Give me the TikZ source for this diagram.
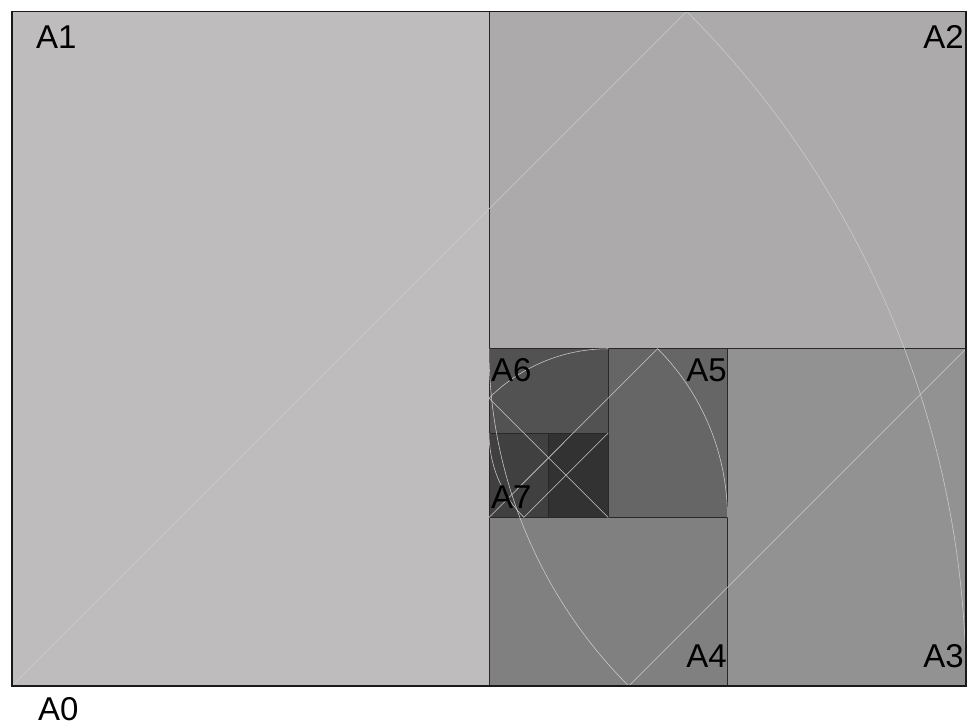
\documentclass[tikz,border=0pt]{standalone}
\usepackage{fontspec}
\setmainfont{Liberation Sans}
\definecolor{cA1}{RGB}{190,188,189}
\definecolor{cA2}{RGB}{172,170,171}
\definecolor{cA3}{RGB}{146,146,146}
\definecolor{cA4}{RGB}{128,128,128}
\definecolor{cA5}{RGB}{102,102,102}
\definecolor{cA6}{RGB}{82,82,82}
\definecolor{cA7}{RGB}{64,64,64}
\definecolor{cA8}{RGB}{50,50,50}
\definecolor{guidecol}{RGB}{205,205,205}
\definecolor{edgecol}{RGB}{40,40,40}
\begin{document}
\begin{tikzpicture}[x=1pt,y=1pt,
  sheet/.style={draw=edgecol, line width=0.8pt},
  frame/.style={draw=black!90, line width=1.6pt},
  guide/.style={draw=guidecol, line width=0.55pt},
  lbl/.style={inner sep=0pt, font=\fontsize{33}{33}\selectfont}]
\useasboundingbox (0,0) rectangle (967,724);
% sheets
\filldraw[sheet, fill=cA1] (12,38) rectangle (489,712.6);
\filldraw[sheet, fill=cA2] (489,375.3) rectangle (966,712.6);
\filldraw[sheet, fill=cA3] (727.5,38) rectangle (966,375.3);
\filldraw[sheet, fill=cA4] (489,38) rectangle (727.5,206.6);
\filldraw[sheet, fill=cA5] (608.25,206.6) rectangle (727.5,375.3);
\filldraw[sheet, fill=cA6] (489,291) rectangle (608.25,375.3);
\filldraw[sheet, fill=cA7] (489,206.6) rectangle (548.6,291);
\filldraw[sheet, fill=cA8] (548.6,206.6) rectangle (608.25,291);
% guide lines and arcs
\draw[guide] (12,38) -- (686.6,712.6) arc[start angle=45, end angle=0, radius=954];
\draw[guide] (966,375.3) -- (628.7,38) arc[start angle=225, end angle=180, radius=477];
\draw[guide] (489,206.6) -- (657.6,375.3) arc[start angle=45, end angle=0, radius=238.5];
\draw[guide] (608.25,206.6) -- (489,325.85) arc[start angle=135, end angle=90, radius=168.65];
\draw[guide] (608.25,291) -- (523.95,206.6) arc[start angle=225, end angle=180, radius=119.25];
% outer frame
\draw[frame] (12,38) rectangle (966,712.6);
% labels
\node[lbl, anchor=base west] (l1) at (36,675) {A1};
\node[lbl, anchor=base east] (l2) at (964,675) {A2};
\node[lbl, anchor=base east] (l3) at (964,57) {A3};
\node[lbl, anchor=base east] (l4) at (727,57) {A4};
\node[lbl, anchor=base east] (l5) at (727,342) {A5};
\node[lbl, anchor=base west] (l6) at (491,342) {A6};
\node[lbl, anchor=base west] (l7) at (491,216) {A7};
\node[lbl, anchor=base west] (l0) at (38,4) {A0};
\end{tikzpicture}
\end{document}
